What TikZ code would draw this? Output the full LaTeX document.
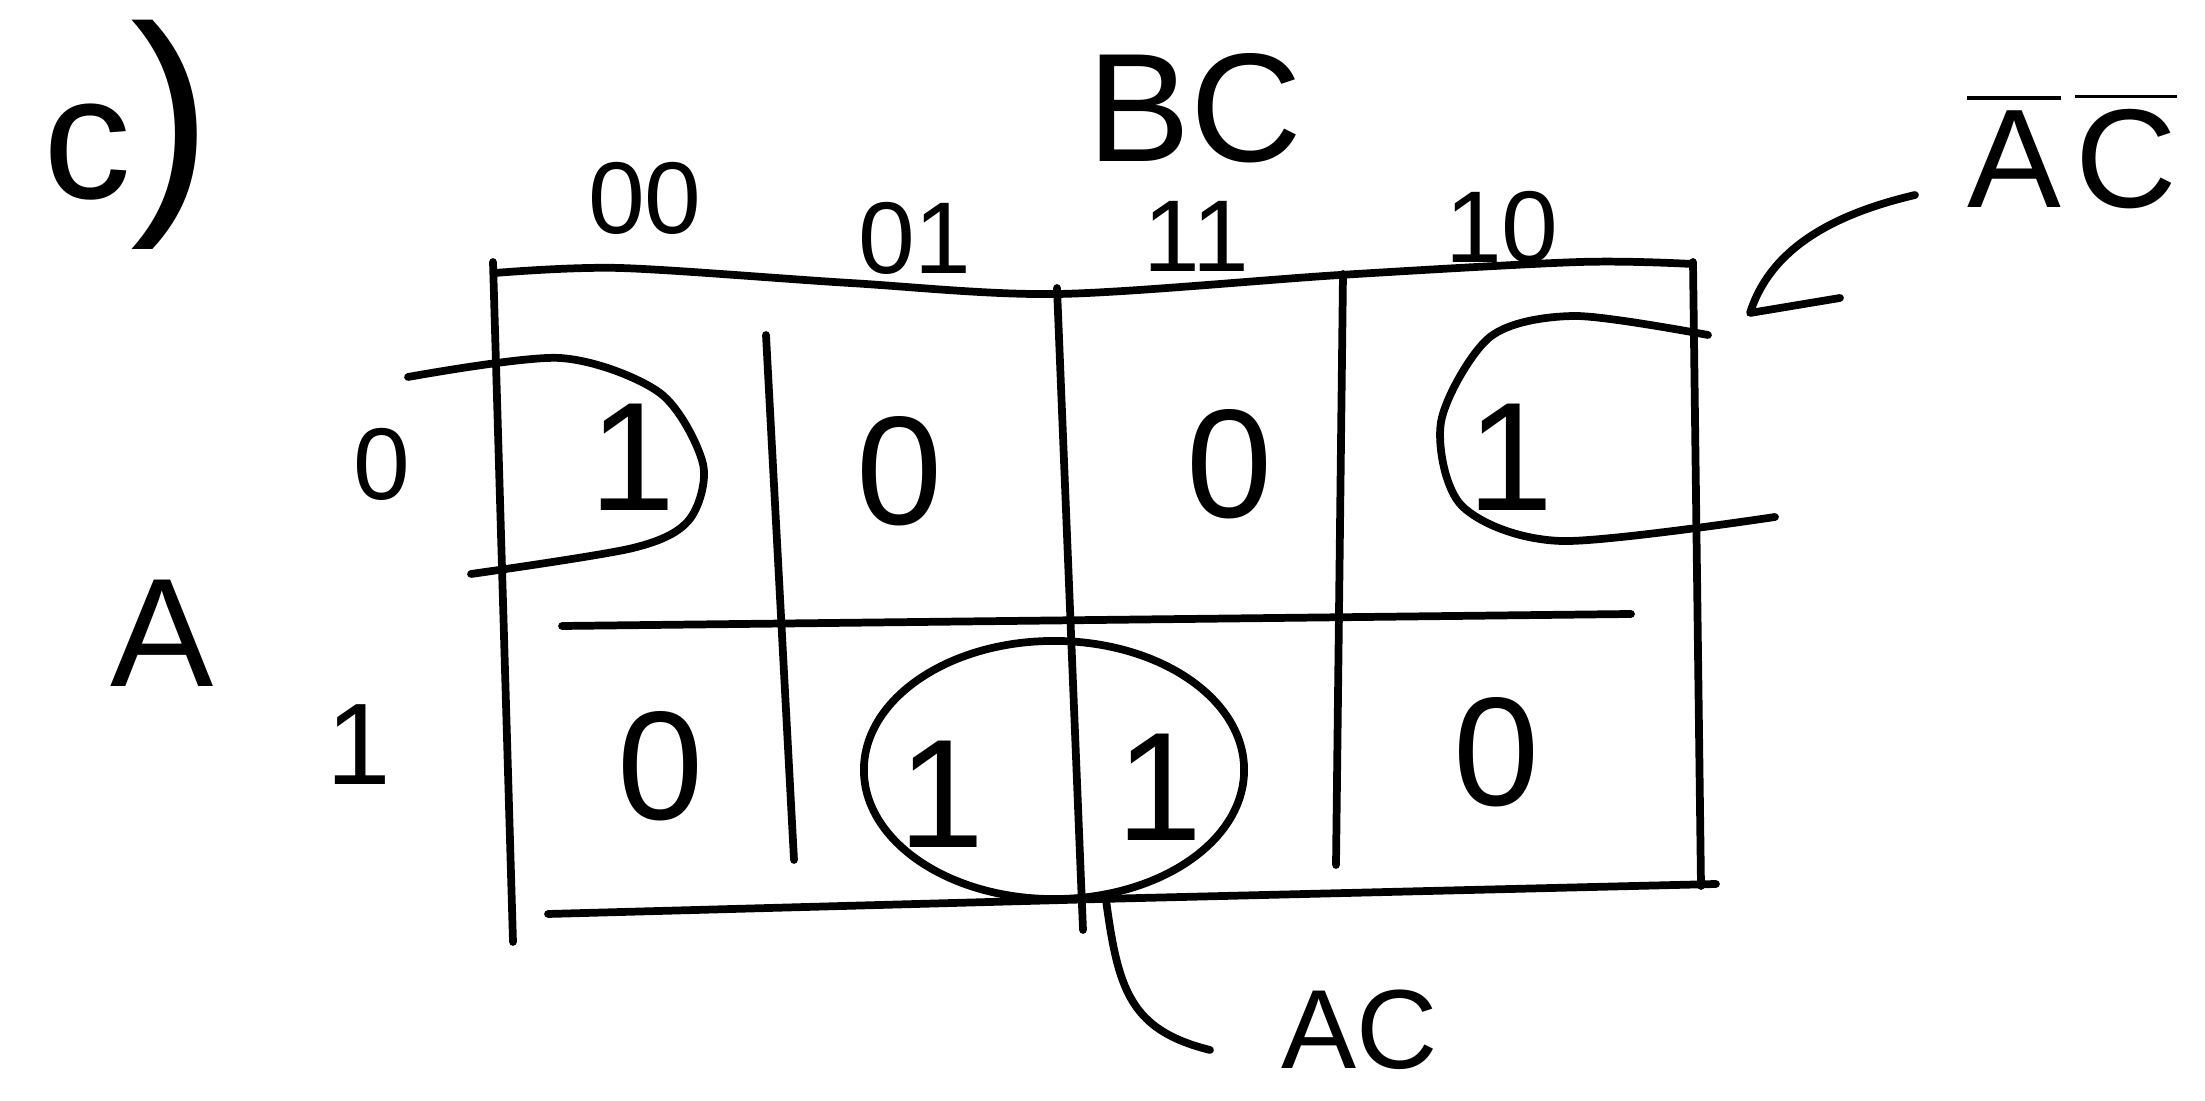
\documentclass[tikz,border=0pt]{standalone}
\usepackage{fontspec}
\setmainfont{Liberation Sans}
\usepackage{amsmath}
\usepackage{tikz}
\usetikzlibrary{positioning, shapes.geometric}

\begin{document}
\begin{tikzpicture}[
    x=0.01cm, y=0.01cm,
    pen/.style={line width=2.2pt, line cap=round, line join=round},
    hdr/.style={inner sep=0pt, font=\fontsize{29}{29}\selectfont},
    val/.style={inner sep=0pt, font=\fontsize{44}{44}\selectfont},
    var/.style={inner sep=0pt, font=\fontsize{44}{44}\selectfont},
    grp/.style={pen, draw, ellipse, inner sep=0pt, minimum width=3.8cm, minimum height=2.58cm}
]
\useasboundingbox (0,0) rectangle (2205,-1101);

\node[inner sep=0pt] (part) at (128,-135) {{\fontsize{50}{50}\selectfont c}{\fontsize{70}{70}\selectfont )}};

% variables and headers
\node[var] (bc) at (1195,-108) {BC};
\node[var] (a) at (162,-633) {A};
\node[hdr] (h00) at (645,-198) {00};
\node[hdr] (h01) at (915,-238) {01};
\node[hdr] (h11) at (1196,-236) {11};
\node[hdr] (h10) at (1502,-227) {10};
\node[hdr] (r0) at (382,-464) {0};
\node[hdr, font=\fontsize{33}{33}\selectfont] (r1) at (359,-745) {1};

% grid
\draw[pen] plot[smooth] coordinates {(495,-273) (620,-268) (850,-283) (1058,-294) (1340,-275) (1580,-262) (1692,-264)};
\draw[pen] (493,-262) -- (513,-942);
\draw[pen] (1693,-262) -- (1701,-886);
\draw[pen] (548,-914) -- (1100,-899) -- (1716,-884);
\draw[pen] (562,-626) -- (1631,-614);
\draw[pen] (766,-335) -- (794,-860);
\draw[pen] (1057,-288) -- (1083,-930);
\draw[pen] (1343,-274) -- (1336,-865);

% cells
\node[val] (m0) at (633,-457) {1};
\node[val] (m1) at (900,-471) {0};
\node[val] (m3) at (1230,-464) {0};
\node[val] (m2) at (1511,-457) {1};
\node[val] (m4) at (661,-766) {0};
\node[val] (m5) at (942,-794) {1};
\node[val] (m7) at (1160,-787) {1};
\node[val] (m6) at (1497,-752) {0};

% groups
\draw[pen] plot[smooth] coordinates {(408,-377) (560,-358) (660,-393) (703,-464) (689,-520) (633,-548) (471,-574)};
\draw[pen] plot[smooth] coordinates {(1708,-335) (1575,-316) (1490,-337) (1441,-422) (1462,-506) (1561,-541) (1775,-517)};
\node[grp] (acLoop) at (1054,-770) {};

% labels
\node[var, font=\fontsize{40}{40}\selectfont] (acbar) at (2072,-150) {$\overline{\text{A}}\,\overline{\text{C}}$};
\node[var, font=\fontsize{32}{32}\selectfont] (ac) at (1360,-1030) {AC};
\coordinate (acbarTail) at (1915,-195);
\coordinate (acbarTip) at (1750,-313);
\coordinate (acTip) at (1210,-1050);

\draw[pen] (acbarTail) .. controls (1830,-215) and (1770,-250) .. (acbarTip) -- ++(90,15);
\draw[pen] (acLoop.-68) .. controls (1118,-990) and (1130,-1030) .. (acTip);
\end{tikzpicture}
\end{document}
